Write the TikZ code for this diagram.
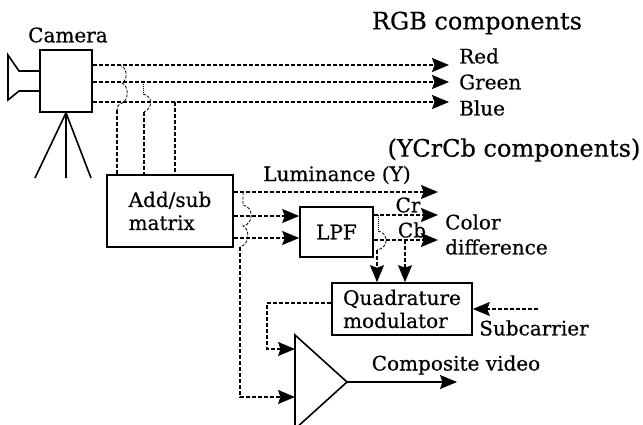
\documentclass[tikz,border=0pt]{standalone}
\usepackage{fontspec}
\setmainfont{DejaVu Serif}[FakeBold=0.5]
\usetikzlibrary{arrows.meta}
\begin{document}
\begin{tikzpicture}[x=1pt,y=-1pt,
  every node/.style={font=\fontsize{20}{23}\selectfont, inner sep=0pt},
  box/.style={draw, line width=1.6pt, align=left},
  sig/.style={line width=1.3pt, dash pattern=on 4pt off 2pt},
  hop/.style={line width=0.8pt, dash pattern=on 3pt off 1.5pt},
  dotl/.style={line width=0.8pt, dash pattern=on 1pt off 1pt},
  tip/.style={-{Stealth[length=17pt,width=14pt,inset=2.5pt]}},
  solidl/.style={line width=1.6pt},
  head/.style={font=\fontsize{24}{28}\selectfont}]
\useasboundingbox (0,0) rectangle (643,424);

% camera
\node[box, minimum width=52pt, minimum height=62pt] (cam) at (66,81) {};
\draw[solidl, line join=miter] (40,71) -- (19,71) -- (8,55) -- (8,100) -- (19,91) -- (40,91);
\coordinate (leg1) at (35,178);
\coordinate (leg2) at (66,178);
\coordinate (leg3) at (91,178);
\draw[solidl] (cam.south) -- (leg1) (cam.south) -- (leg2) (cam.south) -- (leg3);
\node (camlbl) at (68,35) {Camera};

% RGB outputs
\coordinate (rEnd) at (449,65);
\coordinate (gEnd) at (449,82);
\coordinate (bEnd) at (449,102);
\draw[sig,tip] (cam.east |- rEnd) -- (rEnd);
\draw[sig,tip] (cam.east |- gEnd) -- (gEnd);
\draw[sig,tip] (cam.east |- bEnd) -- (bEnd);
\node[head] (rgb) at (477,23) {RGB components};
\node[anchor=west] (red) at (459,56) {Red};
\node[anchor=west] (green) at (459,82) {Green};
\node[anchor=west] (blue) at (459,108) {Blue};

% matrix
\node[box, minimum width=126pt, minimum height=72pt] (mat) at (170,211) {Add/sub\\matrix};

% verticals into matrix
\coordinate (v1a) at (119,65);
\coordinate (v1) at (117,110);
\draw[hop] (v1a) .. controls (128,67) and (128,80) .. (122,83) .. controls (129,86) and (129,100) .. (122,103) .. controls (119,104) and (117,106) .. (v1);
\draw[sig] (v1) -- (v1 |- mat.north);
\coordinate (v2a) at (143,82);
\coordinate (v2b) at (143,94);
\coordinate (v2) at (144,112);
\draw[dotl] (v2a) -- (v2b);
\draw[hop] (v2b) .. controls (153,96) and (153,108) .. (v2);
\draw[sig] (v2) -- (v2 |- mat.north);
\coordinate (v3) at (175,102);
\draw[sig] (v3) -- (v3 |- mat.north);

% LPF
\node[box, minimum width=73pt, minimum height=50pt] (lpf) at (336.5,232) {LPF};
\coordinate (y216) at (0,216);
\coordinate (y238) at (0,238);
\coordinate (lumEnd) at (438,192);
\draw[sig,tip] (mat.east |- lumEnd) -- (lumEnd);
\draw[sig,tip] (mat.east |- y216) -- (lpf.west |- y216);
\draw[sig,tip] (mat.east |- y238) -- (lpf.west |- y238);
\node (lum) at (337,175) {Luminance (Y)};

\coordinate (crEnd) at (438,215);
\coordinate (cbEnd) at (438,240);
\draw[sig,tip] (lpf.east |- crEnd) -- (crEnd);
\draw[sig,tip] (lpf.east |- cbEnd) -- (cbEnd);
\node (cr) at (408,205) {Cr};
\node (cb) at (412,230) {Cb};
\node[anchor=west] (color) at (445,222) {Color};
\node[anchor=west] (diff) at (445,247) {difference};

% quadrature modulator
\node[box, minimum width=140pt, minimum height=52pt] (qm) at (402,309) {Quadrature\\modulator};
\coordinate (c1a) at (378,215);
\coordinate (c1b) at (378,231);
\coordinate (c1) at (377,250);
\draw[dotl] (c1a) -- (c1b);
\draw[hop] (c1b) .. controls (389,233) and (389,248) .. (c1);
\draw[sig,tip] (c1) -- (c1 |- qm.north);
\coordinate (c2) at (405,240);
\draw[sig,tip] (c2) -- (c2 |- qm.north);

\coordinate (subStart) at (538,309);
\draw[sig,tip] (subStart) -- (qm.east |- subStart);
\node (sub) at (534,328) {Subcarrier};

% amplifier
\coordinate (ampTop) at (295,335);
\coordinate (ampOut) at (347,382);
\coordinate (ampBot) at (295,429);
\draw[solidl, line join=miter] (ampTop) -- (ampOut) -- (ampBot) -- cycle;
\coordinate (ampIn1) at (295,349);
\coordinate (ampIn2) at (295,397);
\coordinate (y303) at (0,303);
\draw[sig,tip] (qm.west |- y303) -- (267,303) -- (267,349) -- (ampIn1);

\coordinate (l1) at (243,192);
\coordinate (l2) at (240,247);
\draw[hop] (l1) -- (243,205) .. controls (254,207) and (254,224) .. (243,226) .. controls (250,229) and (250,244) .. (l2);
\draw[sig,tip] (l2) -- (240,397) -- (ampIn2);

\coordinate (compEnd) at (457,382);
\draw[solidl,tip] (ampOut) -- (compEnd);
\node (comp) at (456,365) {Composite video};

\node[head] (ycc) at (514,150) {(YCrCb components)};
\end{tikzpicture}
\end{document}
